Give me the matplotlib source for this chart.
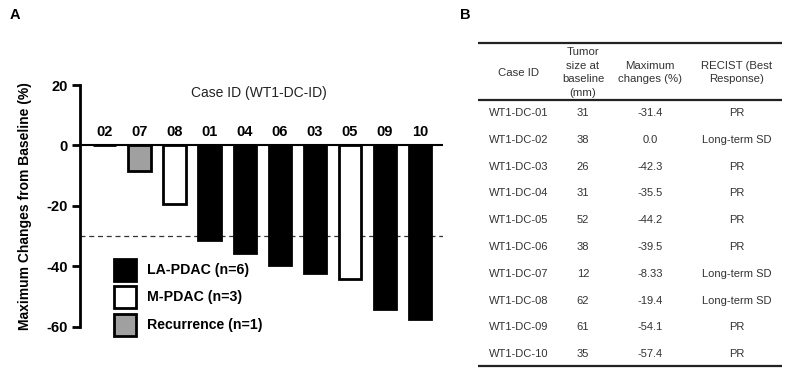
import matplotlib
matplotlib.use("Agg")
import matplotlib.pyplot as plt
from matplotlib.patches import Rectangle

plt.rcParams['font.family'] = ['Liberation Sans', 'DejaVu Sans']

# panel A data (bar order as in the waterfall plot)
case_ids = ["02", "07", "08", "01", "04", "06", "03", "05", "09", "10"]
changes = [0.0, -8.33, -19.4, -31.4, -35.5, -39.5, -42.3, -44.2, -54.1, -57.4]
groups = ["LA", "Rec", "M", "LA", "LA", "LA", "LA", "M", "LA", "LA"]
group_colors = {"LA": "black", "M": "white", "Rec": "#a0a0a0"}
group_labels = {"LA": "LA-PDAC (n=6)", "M": "M-PDAC (n=3)", "Rec": "Recurrence (n=1)"}
yticks = [20, 0, -20, -40, -60]
pr_cutoff = -30

# panel B table
tbl_cols = ["Case ID", "Tumor\nsize at\nbaseline\n(mm)", "Maximum\nchanges (%)", "RECIST (Best\nResponse)"]
tbl_case = ["WT1-DC-01", "WT1-DC-02", "WT1-DC-03", "WT1-DC-04", "WT1-DC-05",
            "WT1-DC-06", "WT1-DC-07", "WT1-DC-08", "WT1-DC-09", "WT1-DC-10"]
tbl_size = ["31", "38", "26", "31", "52", "38", "12", "62", "61", "35"]
tbl_change = ["-31.4", "0.0", "-42.3", "-35.5", "-44.2", "-39.5", "-8.33", "-19.4", "-54.1", "-57.4"]
tbl_recist = ["PR", "Long-term SD", "PR", "PR", "PR", "PR", "Long-term SD", "Long-term SD", "PR", "PR"]

fig = plt.figure(figsize=(8, 3.72), dpi=100)

# ---- panel A
ax = fig.add_axes([0.1, 0.121, 0.454, 0.6505])
x = list(range(len(case_ids)))
ax.bar(x, changes, width=0.64, color=[group_colors[g] for g in groups],
       edgecolor="black", linewidth=2, zorder=3)
ax.axhline(0, color="black", lw=1.5, zorder=4)
ax.axhline(pr_cutoff, color="#333333", lw=0.9, ls=(0, (4, 3)), zorder=2)
ax.set_xlim(-0.7, 9.66)
ax.set_ylim(-60, 20)
ax.set_yticks(yticks)
ax.set_yticklabels([str(t) for t in yticks], fontweight="bold", fontsize=10.5)
ax.tick_params(axis="y", width=2, length=6, direction="out", pad=3)
ax.set_xticks([])
for s in ["top", "right", "bottom"]:
    ax.spines[s].set_visible(False)
ax.spines["left"].set_linewidth(2)
ax.set_ylabel("Maximum Changes from Baseline (%)", fontweight="bold", fontsize=10, labelpad=10)

for xi, cid in zip(x, case_ids):
    ax.text(xi, 2.2, cid, ha="center", va="bottom", fontweight="bold", fontsize=10.5)
ax.text(4.4, 17.5, "Case ID (WT1-DC-ID)", ha="center", va="center", fontsize=10, color="#222222")

fig.text(10 / 800, 1 - 15 / 372, "A", fontweight="bold", fontsize=10.5, va="center")
fig.text(460 / 800, 1 - 15 / 372, "B", fontweight="bold", fontsize=10.5, va="center")

# overlay in pixel coordinates for legend and table
tb = fig.add_axes([0, 0, 1, 1], facecolor="none")
tb.set_xlim(0, 800)
tb.set_ylim(372, 0)
tb.axis("off")

# legend boxes
for k, g in enumerate(["LA", "M", "Rec"]):
    top = 258.5 + k * 27.5
    tb.add_patch(Rectangle((113.5, top), 22, 22, facecolor=group_colors[g],
                           edgecolor="black", linewidth=2, zorder=5))
    tb.text(147, top + 11.5, group_labels[g], ha="left", va="center",
            fontweight="bold", fontsize=10.2, zorder=5)

# ---- panel B table
col_x = [519, 583, 650, 737]
tb.hlines([43, 100, 366], 478, 782, color="#222222", lw=1.6)
for cx, head in zip(col_x, tbl_cols):
    tb.text(cx, 72.5, head, ha="center", va="center", fontsize=8.2, color="#333333", linespacing=1.45)
for i in range(len(tbl_case)):
    ry = 113 + i * 26.8
    for cx, val in zip(col_x, [tbl_case[i], tbl_size[i], tbl_change[i], tbl_recist[i]]):
        tb.text(cx, ry, val, ha="center", va="center", fontsize=8, color="#333333")

fig.savefig("out.png", dpi=100)
